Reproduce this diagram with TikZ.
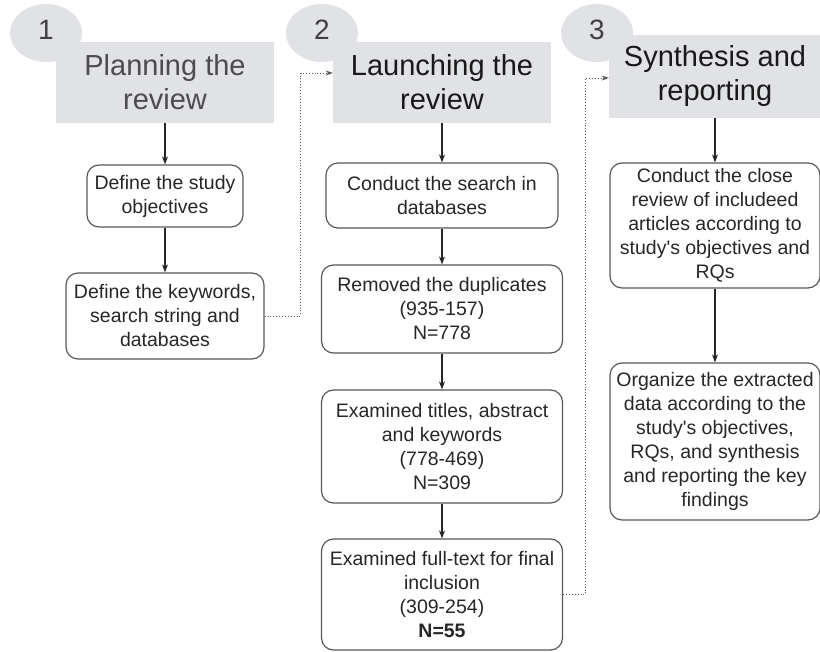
\documentclass[tikz,border=0pt]{standalone}
\usepackage{fontspec}
\setmainfont{Liberation Sans}
\usetikzlibrary{positioning,shapes,arrows.meta,calc}

\definecolor{headgray}{RGB}{224,226,230}
\definecolor{edgegray}{RGB}{88,88,88}

\tikzset{
  stepbox/.style={draw=edgegray, line width=1.2pt, rounded corners=12pt, align=center,
    font=\fontsize{19.5}{24}\selectfont, text=black!85},
  headbox/.style={fill=headgray, align=center, font=\fontsize{29}{34}\selectfont,
    minimum width=218pt, minimum height=81pt},
  numblob/.style={ellipse, fill=headgray, inner sep=0pt, text depth=6pt, minimum width=72pt,
    minimum height=58pt, font=\fontsize{28}{28}\selectfont, text=black!75},
  flow/.style={-{Stealth[length=8pt,width=6pt]}, line width=1.2pt, black!85},
  link/.style={dotted, -{Stealth[length=7pt,width=5pt]}, line width=0.9pt, edgegray}
}

\begin{document}
\begin{tikzpicture}[x=1pt,y=-1pt]
  \useasboundingbox (0,0) rectangle (820,652);

  % phase headers with their numbers
  \node[numblob] (n1) at (46,33) {1};
  \node[numblob] (n2) at (322,33) {2};
  \node[numblob] (n3) at (597,33) {3};
  \node[headbox, text=black!70] (h1) at (165,82.5) {Planning the\\review};
  \node[headbox, text=black!90] (h2) at (442,82.5) {Launching the\\review};
  \node[headbox, text=black!90, minimum width=212pt, minimum height=83pt] (h3) at (715,76.5)
    {Synthesis and\\reporting};

  % planning
  \node[stepbox, minimum width=156pt, minimum height=62pt] (b1a) at (165,196)
    {Define the study\\objectives};
  \node[stepbox, minimum width=198pt, minimum height=86pt] (b1b) at (165,316)
    {Define the keywords,\\search string and\\databases};

  % launching
  \node[stepbox, minimum width=232pt, minimum height=65pt] (b2a) at (442,195.5)
    {Conduct the search in\\databases};
  \node[stepbox, minimum width=241pt, minimum height=88pt] (b2b) at (442,309)
    {Removed the duplicates\\(935-157)\\N=778};
  \node[stepbox, minimum width=241pt, minimum height=113pt] (b2c) at (442,446.5)
    {Examined titles, abstract\\and keywords\\(778-469)\\N=309};
  \node[stepbox, minimum width=241pt, minimum height=111pt] (b2d) at (442,594.5)
    {Examined full-text for final\\inclusion\\(309-254)\\\textbf{N=55}};

  % synthesis
  \node[stepbox, minimum width=210pt, minimum height=125pt] (b3a) at (715,225.5)
    {Conduct the close\\review of includeed\\articles according to\\study\textquotesingle s objectives and\\RQs};
  \node[stepbox, minimum width=210pt, minimum height=157pt] (b3b) at (715,441.5)
    {Organize the extracted\\data according to the\\study\textquotesingle s objectives,\\RQs, and synthesis\\and reporting the key\\findings};

  \draw[flow] (h1) -- (b1a);
  \draw[flow] (b1a) -- (b1b);
  \draw[flow] (h2) -- (b2a);
  \draw[flow] (b2a) -- (b2b);
  \draw[flow] (b2b) -- (b2c);
  \draw[flow] (b2c) -- (b2d);
  \draw[flow] (h3) -- (b3a);
  \draw[flow] (b3a) -- (b3b);

  % hand-over between phases
  \draw[link] (b1b.east) -- ++(36,0) |- ([yshift=9.5pt]h2.west);
  \draw[link] (b2d.east) -- ++(22,0) |- ([yshift=-1.5pt]h3.west);
\end{tikzpicture}
\end{document}
